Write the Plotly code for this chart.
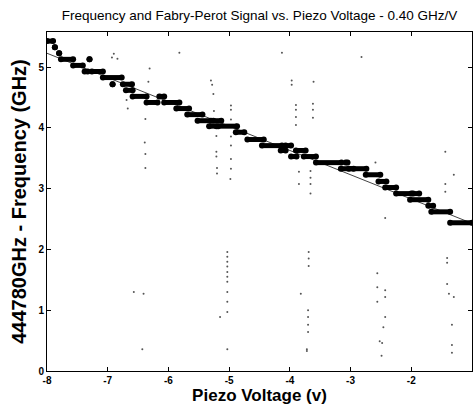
import plotly.graph_objects as go

# Wavemeter frequency readings: runs of dots (start voltage, end voltage, frequency)
run_x0 = [-8.00, -7.87, -7.80, -7.77, -7.57, -7.30, -7.38, -7.26, -7.08, -6.92, -6.75, -6.70,
          -6.59, -6.15, -6.36, -6.07, -5.87, -5.69, -5.52, -5.33, -5.26, -5.18, -4.89, -4.70,
          -4.46, -4.15, -4.07, -3.98, -3.90, -3.77, -3.57, -3.16, -3.08, -3.03, -2.75, -2.54,
          -2.43, -2.25, -1.97, -2.02, -1.72, -1.67, -1.36]
run_x1 = [-7.90, -7.87, -7.80, -7.57, -7.41, -7.30, -7.33, -7.08, -6.77, -6.92, -6.60, -6.59,
          -6.36, -6.07, -6.18, -5.82, -5.66, -5.44, -5.30, -5.21, -5.13, -4.87, -4.75, -4.43,
          -4.13, -4.07, -3.98, -3.89, -3.74, -3.57, -3.15, -2.95, -3.05, -2.74, -2.51, -2.41,
          -2.25, -2.00, -1.87, -1.72, -1.64, -1.36, -1.00]
run_y = [5.43, 5.33, 5.23, 5.13, 5.03, 5.13, 4.93, 4.93, 4.83, 4.72, 4.72, 4.62,
         4.52, 4.52, 4.42, 4.42, 4.32, 4.22, 4.12, 4.03, 4.12, 4.03, 3.93, 3.81,
         3.71, 3.63, 3.71, 3.53, 3.63, 3.53, 3.43, 3.33, 3.43, 3.33, 3.23, 3.12,
         3.02, 2.92, 2.92, 2.82, 2.72, 2.62, 2.44]

# Linear fit (0.40 GHz/V)
fit_x = [-8.0, -1.0]
fit_y = [5.23, 2.43]

# Fabry-Perot signal points
fp_x = [-6.93, -6.90, -6.84, -6.31, -6.33, -6.69, -6.67, -6.38, -6.39, -6.38, -6.38,
        -5.82,
        -5.30, -5.28, -5.26, -5.25, -4.97, -4.97, -4.97, -5.21, -5.21, -5.21, -4.97, -5.20,
        -5.20, -4.97, -4.97, -4.98, -4.97,
        -4.13,
        -3.97, -3.97, -3.61, -3.90, -3.90, -3.90, -3.90, -3.85, -3.85, -3.62, -3.62, -3.62,
        -3.66, -3.66, -3.66, -3.66,
        -2.82,
        -2.59, -1.44, -1.30, -1.44, -1.44, -2.43, -2.56, -2.56, -2.43, -2.43, -1.41, -1.41,
        -1.41, -1.38, -1.30,
        -6.57, -6.41, -6.43, -5.15,
        -5.03, -5.03, -5.03, -5.03, -5.03, -5.03, -5.03, -5.03, -5.03, -5.03, -5.03,
        -3.69, -3.69, -3.69, -3.82, -3.70, -3.70, -3.70, -3.70, -3.72, -3.72,
        -2.56, -2.43, -2.46, -2.52, -2.48, -2.49, -1.33, -1.33, -1.33]
fp_y = [5.16, 5.22, 5.14, 4.98, 4.76, 4.46, 4.32, 4.15, 3.76, 3.57, 3.34,
        5.24,
        4.78, 4.71, 4.56, 4.28, 4.37, 4.30, 4.14, 3.87, 3.61, 3.53, 3.71, 3.34,
        3.25, 3.49, 3.33, 3.16, 3.86,
        5.24,
        4.78, 4.71, 4.76, 4.38, 4.30, 4.18, 4.05, 3.28, 3.08, 4.40, 4.30, 4.17,
        3.29, 3.18, 3.08, 2.92,
        5.17,
        3.43, 3.61, 3.23, 3.08, 2.95, 2.52, 1.61, 1.38, 1.33, 1.22, 1.86, 1.78,
        1.43, 1.27, 1.22,
        1.30, 1.27, 0.36, 0.89,
        1.96, 1.88, 1.80, 1.72, 1.63, 1.55, 1.47, 1.30, 1.14, 0.97, 0.36,
        1.96, 1.85, 1.73, 1.27, 1.00, 0.89, 0.76, 0.64, 0.36, 0.33,
        1.14, 0.89, 0.72, 0.49, 0.46, 0.25, 0.76, 0.43, 0.30]

x_ticks = [-8, -7, -6, -5, -4, -3, -2, -1]
y_ticks = [0, 1, 2, 3, 4, 5]

title_text = "Frequency and Fabry-Perot Signal vs. Piezo Voltage - 0.40 GHz/V"
x_title = "Piezo Voltage (v)"
y_title = "444780GHz - Frequency (GHz)"

FONT = "Liberation Sans, Arial, sans-serif"

seg_x, seg_y = [], []
for a, b, v in zip(run_x0, run_x1, run_y):
    seg_x += [a, b, None]
    seg_y += [v, v, None]

fig = go.Figure()
fig.add_trace(go.Scatter(x=fp_x, y=fp_y, mode="markers",
                         marker=dict(size=2, color="#555555"),
                         showlegend=False, hoverinfo="skip"))
fig.add_trace(go.Scatter(x=fit_x, y=fit_y, mode="lines",
                         line=dict(color="#444444", width=1),
                         showlegend=False, hoverinfo="skip"))
fig.add_trace(go.Scatter(x=seg_x, y=seg_y, mode="lines+markers",
                         line=dict(color="black", width=5),
                         marker=dict(size=6, color="black"),
                         connectgaps=False, showlegend=False, hoverinfo="skip"))

axis_common = dict(showgrid=False, zeroline=False, showline=True, linecolor="black",
                   linewidth=1, mirror="ticks", ticks="inside", ticklen=4,
                   tickcolor="black", tickwidth=1)

fig.update_layout(
    width=473, height=412,
    margin=dict(l=47, r=1, t=32, b=41),
    paper_bgcolor="white", plot_bgcolor="white",
    font=dict(family=FONT, color="black"),
    title=dict(text=title_text, x=0.5, xref="paper", xanchor="center",
               y=1 - 15 / 412, yanchor="middle", yref="container",
               font=dict(size=13.5, family=FONT, color="black")),
    xaxis=dict(range=[-8, -1], tickvals=x_ticks, ticktext=[str(v) for v in x_ticks],
               tickfont=dict(size=10, family=FONT, weight="bold"),
               title=dict(text=x_title, standoff=3,
                          font=dict(size=17, family=FONT, weight="bold")),
               **axis_common),
    yaxis=dict(range=[0, 5.58], tickvals=y_ticks, ticktext=[str(v) for v in y_ticks],
               tickfont=dict(size=10, family=FONT, weight="bold"),
               title=dict(text=y_title, standoff=6,
                          font=dict(size=20, family=FONT, weight="bold")),
               **axis_common),
)

fig.write_html("out.html")
